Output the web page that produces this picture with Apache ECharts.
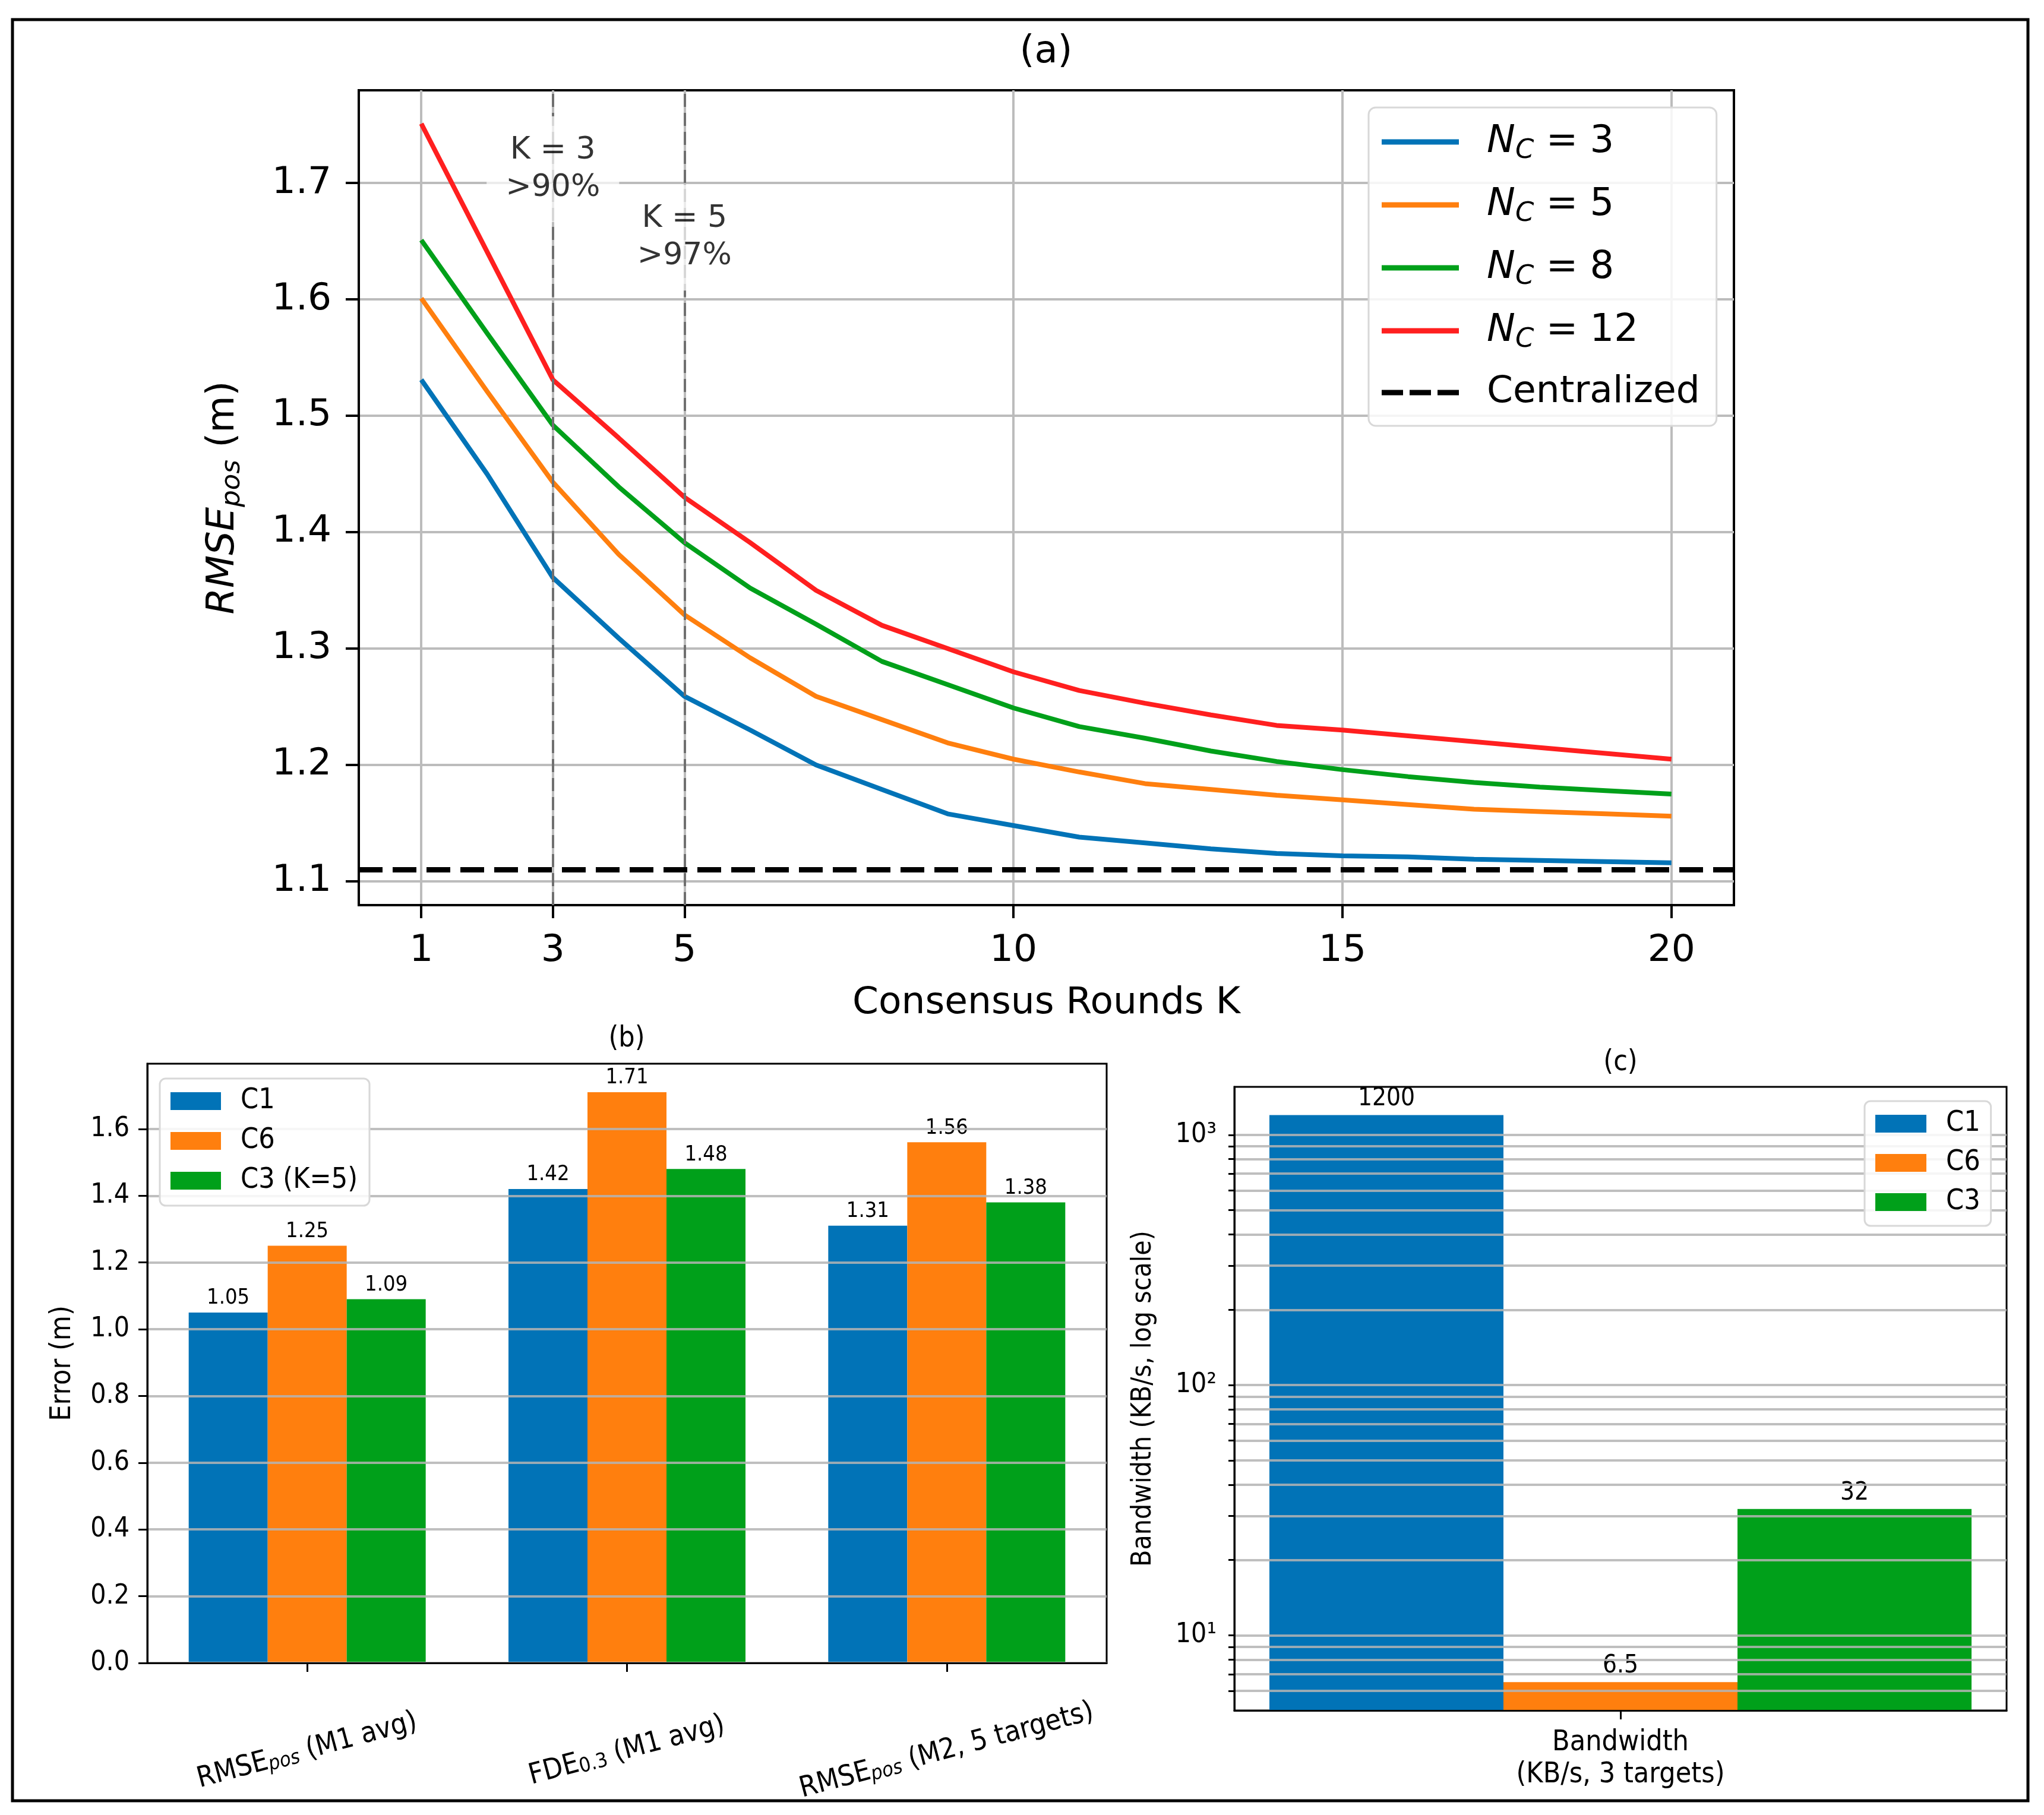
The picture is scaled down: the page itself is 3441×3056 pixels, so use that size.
<!DOCTYPE html>
<html>
<head>
<meta charset="utf-8">
<script src="https://cdn.jsdelivr.net/npm/echarts@6/dist/echarts.min.js"></script>
<style>
  html, body { margin: 0; padding: 0; background: #fff; }
  #chart { width: 3441px; height: 3056px; }
</style>
</head>
<body>
<div id="chart"></div>
<script>
// ---- data (a): RMSE vs consensus rounds ----
var K = [1, 2, 3, 4, 5, 6, 7, 8, 9, 10, 11, 12, 13, 14, 15, 16, 17, 18, 19, 20];
var NC3 = [1.531, 1.45, 1.361, 1.309, 1.259, 1.230, 1.200, 1.179, 1.158, 1.148, 1.138, 1.133, 1.128, 1.124, 1.122, 1.121, 1.119, 1.118, 1.117, 1.116];
var NC5 = [1.601, 1.521, 1.443, 1.381, 1.329, 1.292, 1.259, 1.239, 1.219, 1.205, 1.194, 1.184, 1.179, 1.174, 1.170, 1.166, 1.162, 1.160, 1.158, 1.156];
var NC8 = [1.651, 1.571, 1.492, 1.439, 1.391, 1.352, 1.321, 1.289, 1.269, 1.249, 1.233, 1.223, 1.212, 1.203, 1.196, 1.190, 1.185, 1.181, 1.178, 1.175];
var NC12 = [1.751, 1.641, 1.531, 1.481, 1.430, 1.391, 1.350, 1.320, 1.300, 1.280, 1.264, 1.253, 1.243, 1.234, 1.230, 1.225, 1.220, 1.215, 1.210, 1.205];
var CENTRAL = 1.108;
var LINE_NAMES = ["N_C = 3", "N_C = 5", "N_C = 8", "N_C = 12"];
var X_TICKS_A = [1, 3, 5, 10, 15, 20];
var Y_TICKS_A = [1.1, 1.2, 1.3, 1.4, 1.5, 1.6, 1.7];
var VLINES = [3, 5];
var ANNOT_X = [3, 5];
var ANNOT_Y = [1.712, 1.653];
var ANNOT_TEXT = ["K = 3\n>90%", "K = 5\n>97%"];

// ---- data (b): error per metric ----
var B_CATS = ["RMSE_pos (M1 avg)", "FDE_0.3 (M1 avg)", "RMSE_pos (M2, 5 targets)"];
var B_C1 = [1.05, 1.42, 1.31];
var B_C6 = [1.25, 1.71, 1.56];
var B_C3 = [1.09, 1.48, 1.38];
var Y_TICKS_B = [0, 0.2, 0.4, 0.6, 0.8, 1.0, 1.2, 1.4, 1.6];

// ---- data (c): bandwidth (log) ----
var C_CATS = ["Bandwidth\n(KB/s, 3 targets)"];
var C_C1 = [1200];
var C_C6 = [6.5];
var C_C3 = [32];
var Y_TICKS_C = [6, 7, 8, 9, 10, 20, 30, 40, 50, 60, 70, 80, 90, 100, 200, 300, 400, 500, 600, 700, 800, 900, 1000];
var Y_LABELS_C = { 10: "10\u00b9", 100: "10\u00b2", 1000: "10\u00b3" };

var FONT = "'DejaVu Sans', sans-serif";
var FONT_S = "'DejaVu Sans Condensed', 'DejaVu Sans', sans-serif";
var COL = { blue: "#0173B7", orange: "#FF7F0E", green: "#00A01A", red: "#FF1F1F" };
var GRIDC = "#bcbcbc";
// legend glyphs: solid line and three-dash line
var ICON_LINE = "path://M0,0H130V9H0Z";
var ICON_DASH = "path://M0,0H36V9H0ZM47,0H83V9H47ZM94,0H130V9H94Z";

function pairs(xs, ys) { return xs.map(function (x, i) { return [x, ys[i]]; }); }

// rich text for N_C, RMSE_pos, FDE_0.3
var RICH_A = {
  it: { fontFamily: FONT, fontStyle: "italic", fontSize: 64, lineHeight: 76, color: "#000" },
  sub: { fontFamily: FONT, fontStyle: "italic", fontSize: 45, lineHeight: 54, verticalAlign: "bottom", color: "#000" },
  t: { fontFamily: FONT, fontSize: 64, lineHeight: 76, color: "#000" }
};
var RICH_B = {
  sub: { fontFamily: FONT_S, fontStyle: "italic", fontSize: 34, lineHeight: 40, verticalAlign: "bottom", color: "#000" },
  subr: { fontFamily: FONT_S, fontSize: 34, lineHeight: 40, verticalAlign: "bottom", color: "#000" }
};

function lineSeries(name, vals, color) {
  return {
    type: "line", name: name, xAxisIndex: 0, yAxisIndex: 0,
    data: pairs(K, vals), symbol: "none", z: 4,
    lineStyle: { color: color, width: 8 }, itemStyle: { color: color }
  };
}

function barSeries(name, vals, color, ax, fs, bw) {
  return {
    type: "bar", name: name, xAxisIndex: ax, yAxisIndex: ax, data: vals,
    barWidth: bw, barGap: "0%", itemStyle: { color: color },
    label: { show: true, position: "top", distance: 6, color: "#000", fontFamily: FONT_S, fontSize: fs }
  };
}

var chart = echarts.init(document.getElementById("chart"), null, { renderer: "canvas" });

var option = {
  animation: false,
  backgroundColor: "#fff",
  textStyle: { fontFamily: FONT, color: "#000" },
  graphic: [
    { type: "rect", shape: { x: 21, y: 33, width: 3393, height: 2999 },
      style: { fill: "none", stroke: "#000", lineWidth: 5 } },
    { type: "text", x: 1761, y: 88, style: { text: "(a)", fontFamily: FONT, fontSize: 64, fill: "#000", align: "center", verticalAlign: "middle" } },
    { type: "text", x: 1055, y: 1750, style: { text: "(b)", fontFamily: FONT_S, fontSize: 48, fill: "#000", align: "center", verticalAlign: "middle" } },
    { type: "text", x: 2728, y: 1790, style: { text: "(c)", fontFamily: FONT_S, fontSize: 48, fill: "#000", align: "center", verticalAlign: "middle" } }
  ],
  grid: [
    { left: 604, top: 152, width: 2315, height: 1372, show: true, borderColor: "#000", borderWidth: 4, outerBoundsMode: "none" },
    { left: 248, top: 1791, width: 1615, height: 1009, show: true, borderColor: "#000", borderWidth: 3, outerBoundsMode: "none" },
    { left: 2078, top: 1830, width: 1300, height: 1050, show: true, borderColor: "#000", borderWidth: 3, outerBoundsMode: "none" }
  ],
  xAxis: [
    { gridIndex: 0, type: "value", min: 0.05, max: 20.95,
      name: "Consensus Rounds K", nameLocation: "middle", nameGap: 134,
      nameTextStyle: { fontFamily: FONT, fontSize: 63, color: "#000" },
      axisLine: { show: true, lineStyle: { color: "#000", width: 4 } },
      axisTick: { show: true, inside: false, length: 22, lineStyle: { color: "#000", width: 4 }, customValues: X_TICKS_A },
      axisLabel: { customValues: X_TICKS_A, margin: 46, fontFamily: FONT, fontSize: 63, color: "#000" },
      splitLine: { show: true, lineStyle: { color: GRIDC, width: 4 } } },
    { gridIndex: 1, type: "category", data: B_CATS, z: 3,
      axisLine: { show: true, lineStyle: { color: "#000", width: 3 } },
      axisTick: { show: true, alignWithLabel: true, length: 15, lineStyle: { color: "#000", width: 3 } },
      axisLabel: { rotate: 15, align: "center", verticalAlign: "middle", margin: 148, interval: 0,
        fontFamily: FONT_S, fontSize: 48, color: "#000", rich: RICH_B,
        formatter: function (v) {
          return v.replace(/_(\S+)/, function (m, s) { return /^[0-9.]+$/.test(s) ? "{subr|" + s + "}" : "{sub|" + s + "}"; });
        } },
      splitLine: { show: false } },
    { gridIndex: 2, type: "category", data: C_CATS, z: 3,
      axisLine: { show: true, lineStyle: { color: "#000", width: 3 } },
      axisTick: { show: true, alignWithLabel: true, length: 15, lineStyle: { color: "#000", width: 3 } },
      axisLabel: { margin: 28, fontFamily: FONT_S, fontSize: 48, lineHeight: 54, color: "#000" },
      splitLine: { show: false } }
  ],
  yAxis: [
    { gridIndex: 0, type: "value", min: 1.0796, max: 1.7797,
      name: "{it|RMSE}{sub|pos}{t| (m)}", nameLocation: "middle", nameRotate: 90, nameGap: 190,
      nameTextStyle: { fontFamily: FONT, fontSize: 64, color: "#000", rich: RICH_A },
      axisLine: { show: true, lineStyle: { color: "#000", width: 4 } },
      axisTick: { show: true, inside: false, length: 22, lineStyle: { color: "#000", width: 4 }, customValues: Y_TICKS_A },
      axisLabel: { customValues: Y_TICKS_A, margin: 46, fontFamily: FONT, fontSize: 63, color: "#000",
        formatter: function (v) { return v.toFixed(1); } },
      splitLine: { show: true, lineStyle: { color: GRIDC, width: 4 } } },
    { gridIndex: 1, type: "value", min: 0, max: 1.7955, z: 3,
      name: "Error (m)", nameLocation: "middle", nameRotate: 90, nameGap: 118,
      nameTextStyle: { fontFamily: FONT_S, fontSize: 48, color: "#000" },
      axisLine: { show: true, lineStyle: { color: "#000", width: 3 } },
      axisTick: { show: true, length: 15, lineStyle: { color: "#000", width: 3 }, customValues: Y_TICKS_B },
      axisLabel: { customValues: Y_TICKS_B, margin: 30, fontFamily: FONT_S, fontSize: 46, color: "#000",
        formatter: function (v) { return v.toFixed(1); } },
      splitLine: { show: true, lineStyle: { color: "rgba(180,180,180,0.85)", width: 4 } } },
    { gridIndex: 2, type: "log", logBase: 10, min: 5.01, max: 1556, z: 3,
      name: "Bandwidth (KB/s, log scale)", nameLocation: "middle", nameRotate: 90, nameGap: 130,
      nameTextStyle: { fontFamily: FONT_S, fontSize: 46, color: "#000" },
      axisLine: { show: true, lineStyle: { color: "#000", width: 3 } },
      axisTick: { show: true, length: 10, lineStyle: { color: "#000", width: 3 }, customValues: Y_TICKS_C },
      axisLabel: { customValues: [10, 100, 1000], margin: 30, fontFamily: FONT_S, fontSize: 46, color: "#000",
        formatter: function (v) { return Y_LABELS_C[Math.round(v)] || ""; } },
      splitLine: { show: true, lineStyle: { color: "rgba(180,180,180,0.85)", width: 4 } } }
  ],
  legend: [
    { left: 2304, top: 181, orient: "vertical",
      data: LINE_NAMES.map(function (n) { return { name: n, icon: ICON_LINE }; })
        .concat([{ name: "Centralized", icon: ICON_DASH }]),
      padding: [20, 28, 20, 22], itemWidth: 130, itemHeight: 9, itemGap: 30,
      backgroundColor: "rgba(255,255,255,0.85)", borderColor: "#d8d8d8", borderWidth: 3, borderRadius: 12,
      textStyle: { fontFamily: FONT, fontSize: 63, lineHeight: 72, color: "#000", padding: [0, 0, 0, 42], rich: RICH_A },
      formatter: function (name) {
        if (name.indexOf("N_C") === 0) return "{it|N}{sub|C}{t|" + name.slice(3) + "}";
        return name;
      } },
    { left: 269, top: 1816, orient: "vertical", data: ["C1", "C6", "C3 (K=5)"], icon: "rect",
      padding: [12, 20, 16, 18], itemWidth: 85, itemHeight: 30, itemGap: 15,
      backgroundColor: "rgba(255,255,255,0.85)", borderColor: "#d8d8d8", borderWidth: 3, borderRadius: 10,
      textStyle: { fontFamily: FONT_S, fontSize: 48, lineHeight: 52, color: "#000", padding: [0, 0, 0, 28] } },
    { left: 3139, top: 1854, orient: "vertical", data: ["C1", "C6", "C3"], icon: "rect",
      padding: [12, 18, 14, 18], itemWidth: 86, itemHeight: 30, itemGap: 14,
      backgroundColor: "rgba(255,255,255,0.85)", borderColor: "#d8d8d8", borderWidth: 3, borderRadius: 10,
      textStyle: { fontFamily: FONT_S, fontSize: 48, lineHeight: 52, color: "#000", padding: [0, 0, 0, 28] } }
  ],
  series: [
    lineSeries(LINE_NAMES[0], NC3, COL.blue),
    lineSeries(LINE_NAMES[1], NC5, COL.orange),
    lineSeries(LINE_NAMES[2], NC8, COL.green),
    lineSeries(LINE_NAMES[3], NC12, COL.red),
    // centralized baseline (axhline)
    { type: "line", name: "Centralized", xAxisIndex: 0, yAxisIndex: 0, data: [], symbol: "none", z: 5,
      lineStyle: { color: "#000", width: 9, type: [40, 17] }, itemStyle: { color: "#000" },
      markLine: { silent: true, symbol: "none", label: { show: false },
        lineStyle: { color: "#000", width: 9, type: [40, 17] },
        data: [{ yAxis: CENTRAL }] } },
    // K=3 / K=5 markers (axvline)
    { type: "line", name: "kmarks", xAxisIndex: 0, yAxisIndex: 0, data: [], symbol: "none", z: 3,
      markLine: { silent: true, symbol: "none", label: { show: false },
        lineStyle: { color: "#707070", width: 4, type: [22, 10] },
        data: VLINES.map(function (v) { return { xAxis: v }; }) } },
    // annotations
    { type: "scatter", name: "annot", xAxisIndex: 0, yAxisIndex: 0, z: 10,
      data: pairs(ANNOT_X, ANNOT_Y), symbolSize: 1, itemStyle: { color: "rgba(0,0,0,0)" },
      label: { show: true, position: "inside", color: "#000", fontFamily: FONT, fontSize: 52, lineHeight: 63,
        backgroundColor: "rgba(255,255,255,0.9)", padding: [26, 32],
        formatter: function (p) { return ANNOT_TEXT[p.dataIndex]; } } },
    barSeries("C1", B_C1, COL.blue, 1, 36, 133),
    barSeries("C6", B_C6, COL.orange, 1, 36, 133),
    barSeries("C3 (K=5)", B_C3, COL.green, 1, 36, 133),
    barSeries("C1", C_C1, COL.blue, 2, 42, 394),
    barSeries("C6", C_C6, COL.orange, 2, 42, 394),
    barSeries("C3", C_C3, COL.green, 2, 42, 394)
  ]
};

chart.setOption(option);
</script>
</body>
</html>
